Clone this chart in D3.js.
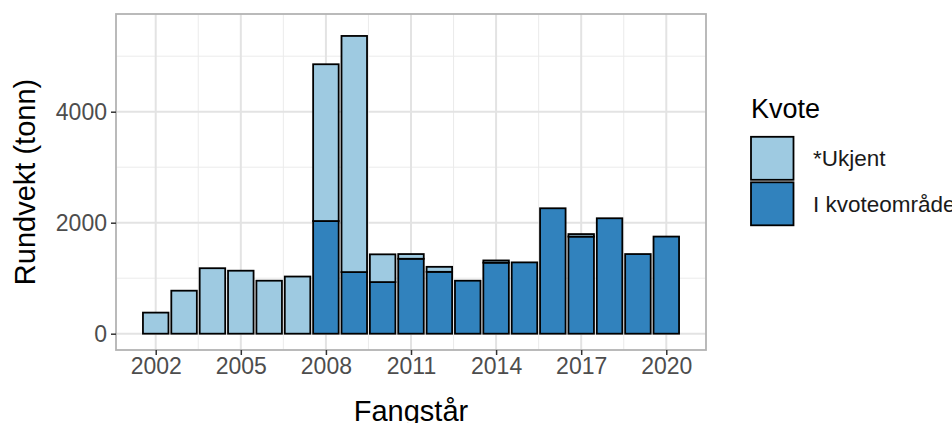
<!DOCTYPE html>
<html>
<head>
<meta charset="utf-8">
<script src="https://cdn.jsdelivr.net/npm/d3@7"></script>
<style>
html,body{margin:0;padding:0;background:#fff;}
svg{display:block;font-family:"Liberation Sans",Arial,sans-serif;}
</style>
</head>
<body>
<svg id="chart" width="952" height="423"></svg>
<script>
const years = [2002,2003,2004,2005,2006,2007,2008,2009,2010,2011,2012,2013,2014,2015,2016,2017,2018,2019,2020];
const kvoteomrade = [0,0,0,0,0,0,2030,1110,930,1350,1115,955,1280,1285,2260,1750,2080,1435,1750];
const ukjent = [380,775,1180,1135,955,1030,2825,4255,500,85,90,0,40,0,0,45,0,0,0];
const seriesKeys = ["I kvoteområde","*Ukjent"];
const legendKeys = ["*Ukjent","I kvoteområde"];
const colors = {"*Ukjent":"#9ECAE1","I kvoteområde":"#3182BD"};
const xTicks = [2002,2005,2008,2011,2014,2017,2020];
const xMinor = [2003.5,2006.5,2009.5,2012.5,2015.5,2018.5];
const yTicks = [0,2000,4000];
const yMinor = [1000,3000,5000];

const rows = years.map((y,i)=>({year:y,"I kvoteområde":kvoteomrade[i],"*Ukjent":ukjent[i]}));

const svg = d3.select("#chart");
const P = {left:116, right:706, top:14, bottom:350};

const x = d3.scaleLinear().domain([2000.6,2021.4]).range([P.left,P.right]);
const y = d3.scaleLinear().domain([0,4000]).range([333.7,111.7]);
const barW = x(2000.6+0.9)-x(2000.6);

// panel background
svg.append("rect").attr("x",P.left).attr("y",P.top).attr("width",P.right-P.left).attr("height",P.bottom-P.top).attr("fill","#fff");

const grid = svg.append("g");
grid.selectAll(".ym").data(yMinor).join("line")
  .attr("x1",P.left).attr("x2",P.right).attr("y1",d=>y(d)).attr("y2",d=>y(d))
  .attr("stroke","#EBEBEB").attr("stroke-width",1);
grid.selectAll(".xm").data(xMinor).join("line")
  .attr("y1",P.top).attr("y2",P.bottom).attr("x1",d=>x(d)).attr("x2",d=>x(d))
  .attr("stroke","#EBEBEB").attr("stroke-width",1);
grid.selectAll(".yM").data(yTicks).join("line")
  .attr("x1",P.left).attr("x2",P.right).attr("y1",d=>y(d)).attr("y2",d=>y(d))
  .attr("stroke","#E3E3E3").attr("stroke-width",2);
grid.selectAll(".xM").data(xTicks).join("line")
  .attr("y1",P.top).attr("y2",P.bottom).attr("x1",d=>x(d)).attr("x2",d=>x(d))
  .attr("stroke","#E3E3E3").attr("stroke-width",2);

// bars
const stack = d3.stack().keys(seriesKeys)(rows);
const bars = svg.append("g");
stack.forEach(s=>{
  bars.selectAll(null).data(s.filter(d=>d[1]-d[0]>0)).join("rect")
    .attr("x",d=>x(d.data.year)-barW/2)
    .attr("width",barW)
    .attr("y",d=>y(d[1]))
    .attr("height",d=>y(d[0])-y(d[1]))
    .attr("fill",colors[s.key])
    .attr("stroke","#000")
    .attr("stroke-width",1.8);
});

// panel border
svg.append("rect").attr("x",P.left).attr("y",P.top).attr("width",P.right-P.left).attr("height",P.bottom-P.top)
  .attr("fill","none").attr("stroke","#B3B3B3").attr("stroke-width",1.8);

// axes
const xAxis = d3.axisBottom(x).tickValues(xTicks).tickFormat(d3.format("d")).tickSize(5).tickPadding(3);
const gx = svg.append("g").attr("transform",`translate(0,${P.bottom})`).call(xAxis);
gx.select(".domain").remove();
gx.selectAll(".tick line").attr("stroke","#333").attr("stroke-width",1.5);
gx.selectAll(".tick text").attr("fill","#4D4D4D").attr("font-size",23).attr("font-family","Liberation Sans, Arial, sans-serif");

const yAxis = d3.axisLeft(y).tickValues(yTicks).tickFormat(d3.format("d")).tickSize(5).tickPadding(4);
const gy = svg.append("g").attr("transform",`translate(${P.left},0)`).call(yAxis);
gy.select(".domain").remove();
gy.selectAll(".tick line").attr("stroke","#333").attr("stroke-width",1.5);
gy.selectAll(".tick text").attr("fill","#4D4D4D").attr("font-size",23).attr("font-family","Liberation Sans, Arial, sans-serif");

// axis titles
svg.append("text").attr("x",(P.left+P.right)/2).attr("y",421).attr("text-anchor","middle")
  .attr("font-size",29).attr("fill","#000").text("Fangstår");
svg.append("text").attr("transform",`translate(35,${(P.top+P.bottom)/2}) rotate(-90)`).attr("text-anchor","middle")
  .attr("font-size",29).attr("fill","#000").text("Rundvekt (tonn)");

// legend
const lg = svg.append("g");
lg.append("text").attr("x",751).attr("y",118).attr("font-size",27).attr("fill","#000").text("Kvote");
legendKeys.forEach((k,i)=>{
  const ky = 136 + i*45.5;
  lg.append("rect").attr("x",751).attr("y",ky+0.8).attr("width",42.5).attr("height",43)
    .attr("fill",colors[k]).attr("stroke","#000").attr("stroke-width",1.8);
  lg.append("text").attr("x",813).attr("y",ky+22.5).attr("dy","0.35em").attr("font-size",22.5).attr("fill","#1A1A1A").text(k);
});
</script>
</body>
</html>
